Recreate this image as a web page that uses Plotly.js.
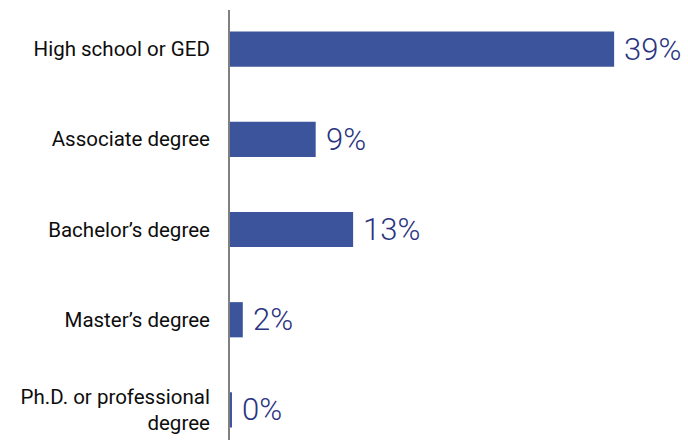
<!DOCTYPE html>
<html><head><meta charset="utf-8">
<script src="https://cdn.plot.ly/plotly-3.0.1.min.js"></script>
<style>html,body{margin:0;padding:0;background:#fff}</style>
</head><body><div id="chart" style="width:688px;height:440px"></div>
<script>
const categories = ["High school or GED", "Associate degree", "Bachelor’s degree", "Master’s degree", "Ph.D. or professional<br>degree"];
const values = [39, 8.7, 12.5, 1.3, 0.2];
const valueLabels = ["39%", "9%", "13%", "2%", "0%"];

const trace = {
  type: 'bar', orientation: 'h',
  x: values, y: categories,
  marker: {color: '#3c549c'},
  hoverinfo: 'none'
};
const annotations = categories.map((c, i) => ({
  x: values[i], y: c, xref: 'x', yref: 'y',
  text: valueLabels[i], showarrow: false,
  xanchor: 'left', yanchor: 'middle', xshift: 8,
  font: {family: 'Roboto, sans-serif', size: 31, weight: 300, color: '#2a347f'}
}));
const layout = {
  width: 688, height: 440,
  margin: {l: 230, r: 0, t: 10, b: 0},
  paper_bgcolor: '#fff', plot_bgcolor: '#fff',
  showlegend: false,
  bargap: 0.61,
  xaxis: {range: [0, 46.5], visible: false, fixedrange: true},
  yaxis: {
    type: 'category', range: [4.333, -0.433], autorange: false,
    showline: true, linecolor: '#808080', linewidth: 2,
    showgrid: false, zeroline: false, ticks: '',
    ticklabelstandoff: 14,
    tickfont: {family: 'Roboto, sans-serif', size: 20.5, color: '#0d0d0d'}
  },
  annotations: annotations
};
Plotly.newPlot('chart', [trace], layout, {displayModeBar: false, staticPlot: true});
</script></body></html>
